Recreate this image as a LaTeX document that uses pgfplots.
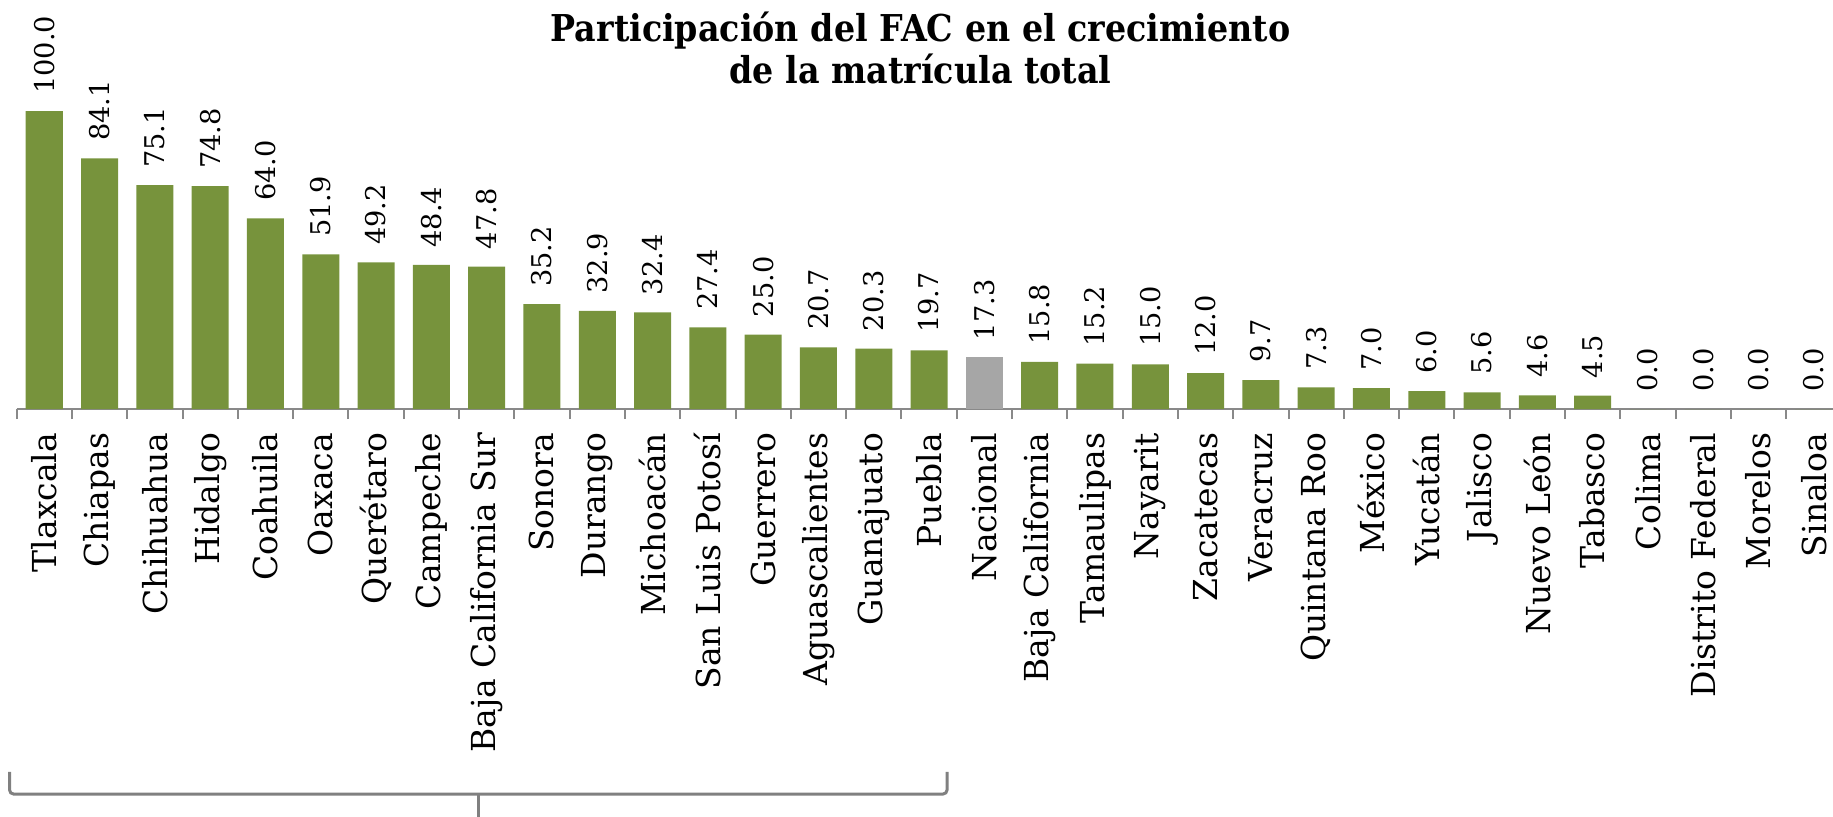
\documentclass[border=0pt]{standalone}
\usepackage{pgfplots}
\pgfplotsset{compat=1.18}
\usepackage{fontspec}
\setmainfont{DejaVu Serif}
\usepackage{graphicx}
\definecolor{barg}{HTML}{77933C}
\definecolor{barn}{HTML}{A6A6A6}
\definecolor{axg}{HTML}{898989}
\definecolor{brg}{HTML}{808080}
\begin{document}
\begin{tikzpicture}
\begin{axis}[
  x=27.65pt, y=1.49pt,
  xmin=-0.5, xmax=32.34, ymin=0, ymax=100,
  enlargelimits=false,
  clip=false,
  axis x line=bottom, axis y line=none,
  x axis line style={-, draw=axg, line width=1.1pt},
  xtick={0,...,32},
  xticklabels={Tlaxcala, Chiapas, Chihuahua, Hidalgo, Coahuila, Oaxaca, Querétaro, Campeche, Baja California Sur, Sonora, Durango, Michoacán, San Luis Potosí, Guerrero, Aguascalientes, Guanajuato, Puebla, Nacional, Baja California, Tamaulipas, Nayarit, Zacatecas, Veracruz, Quintana Roo, México, Yucatán, Jalisco, Nuevo León, Tabasco, Colima, Distrito Federal, Morelos, Sinaloa},
  major tick length=0pt,
  minor xtick={-0.5,0.5,...,31.5},
  minor tick length=5pt,
  tick align=outside,
  minor tick style={draw=axg, line width=1pt},
  major tick style={draw=none},
  xticklabel style={yshift=-11.75pt, rotate=90, anchor=east, inner sep=0pt, font=\fontsize{16.5}{18}\selectfont, text=black},
  ybar, bar width=18.5pt, bar shift=0pt,
  nodes near coords={\pgfmathprintnumber[fixed,fixed zerofill,precision=1]{\pgfplotspointmeta}},
  every node near coord/.append style={yshift=8.5pt, rotate=90, anchor=west, inner sep=0pt, font=\fontsize{13.6}{15}\selectfont, text=black},
  /pgf/number format/assume math mode=true,
]
\addplot[fill=barg, draw=none] coordinates {
(0,100.0) (1,84.1) (2,75.1) (3,74.8) (4,64.0) (5,51.9) (6,49.2) (7,48.4) (8,47.8)
(9,35.2) (10,32.9) (11,32.4) (12,27.4) (13,25.0) (14,20.7) (15,20.3) (16,19.7)
(18,15.8) (19,15.2) (20,15.0) (21,12.0) (22,9.7) (23,7.3) (24,7.0) (25,6.0)
(26,5.6) (27,4.6) (28,4.5) (29,0.0) (30,0.0) (31,0.0) (32,0.0)};
\addplot[fill=barn, draw=none] coordinates {(17,17.3)};
\coordinate (O) at (axis cs:-0.5,0);
\draw[brg, line width=1.5pt, rounded corners=2pt]
  (axis cs:-0.627,-121.8) -- (axis cs:-0.627,-129.2) -- (axis cs:16.325,-129.2) -- (axis cs:16.325,-121.8);
\draw[brg, line width=1.5pt] (axis cs:7.849,-129.2) -- (axis cs:7.849,-137.5);
\end{axis}
\node[anchor=base, inner sep=0pt, font=\bfseries\fontsize{18.5}{20}\selectfont] at ([xshift=451.95pt, yshift=183.65pt]O) {\scalebox{0.9}[1]{Participación del FAC en el crecimiento}};
\node[anchor=base, inner sep=0pt, font=\bfseries\fontsize{18.5}{20}\selectfont] at ([xshift=451.95pt, yshift=163pt]O) {\scalebox{0.9}[1]{de la matrícula total}};
\pgfresetboundingbox
\path[use as bounding box] ([xshift=-8.3pt,yshift=204.5pt]O) rectangle ([xshift=908.2pt,yshift=-203.5pt]O);
\end{tikzpicture}
\end{document}
